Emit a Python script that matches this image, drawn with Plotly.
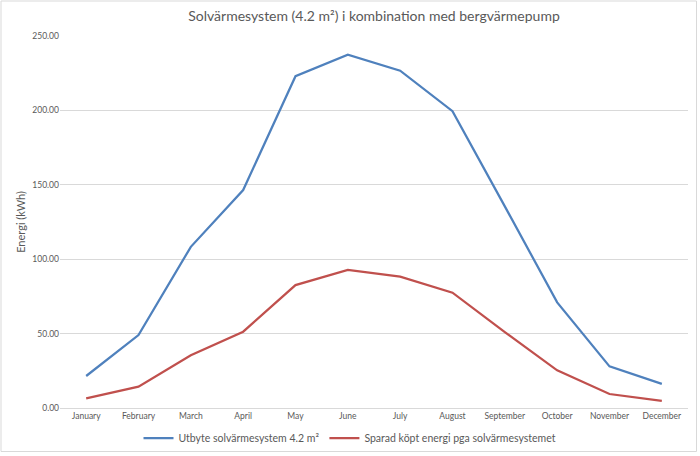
import plotly.graph_objects as go

months = ["January", "February", "March", "April", "May", "June", "July",
          "August", "September", "October", "November", "December"]
utbyte = [21.5, 49.0, 108.3, 146.5, 223.0, 237.5, 226.7, 199.5, 135.5, 71.0, 28.0, 16.2]
sparad = [6.5, 14.3, 35.5, 51.3, 82.6, 92.8, 88.3, 77.5, 51.0, 25.3, 9.4, 4.8]

W, H = 700, 456
L, R, T, B = 60, 12, 36, 48
FONT = "Lato, Open Sans, sans-serif"
GREY = "#595959"

fig = go.Figure()
fig.add_trace(go.Scatter(x=months, y=utbyte, mode="lines",
                         name="Utbyte solvärmesystem 4.2 m²",
                         line=dict(color="#4F81BD", width=2.25)))
fig.add_trace(go.Scatter(x=months, y=sparad, mode="lines",
                         name="Sparad köpt energi pga solvärmesystemet",
                         line=dict(color="#C0504D", width=2.25)))

pw = W - L - R
ph = H - T - B
fig.update_layout(
    width=W, height=H,
    margin=dict(l=L, r=R, t=T, b=B, autoexpand=False),
    paper_bgcolor="white", plot_bgcolor="white",
    font=dict(family=FONT, color=GREY),
    title=dict(text="Solvärmesystem (4.2 m²) i kombination med bergvärmepump",
               x=0.5, xref="paper", xanchor="center",
               y=1 - 16 / H, yanchor="middle",
               font=dict(size=14, color=GREY, family=FONT)),
    xaxis=dict(showgrid=False, showline=True, linecolor="#D9D9D9", linewidth=1,
               ticks="", tickfont=dict(size=8.5, color=GREY),
               range=[-0.5, 11.5], zeroline=False, fixedrange=True,
               automargin=False),
    yaxis=dict(range=[0, 250], dtick=50, tickformat=".2f",
               showgrid=True, gridcolor="#D9D9D9", gridwidth=1,
               zeroline=False, showline=False, ticks="",
               tickfont=dict(size=8.5, color=GREY), automargin=False,
               title=dict(text="Energi (kWh)", font=dict(size=11, color=GREY),
                          standoff=4)),
    showlegend=True,
    legend=dict(orientation="h", xref="container", x=0.5, xanchor="center",
                yref="container", y=1 - 438 / H, yanchor="middle",
                font=dict(size=10.5, color=GREY), itemwidth=30,
                bgcolor="rgba(0,0,0,0)"),
)

# chart frame
fig.add_shape(type="rect", xref="paper", yref="paper",
              x0=-(L - 1) / pw, x1=1 + (R - 3.5) / pw,
              y0=-(B - 4.5) / ph, y1=1 + (T - 1) / ph,
              line=dict(color="#D9D9D9", width=1), layer="below")

fig.write_html("out.html")
